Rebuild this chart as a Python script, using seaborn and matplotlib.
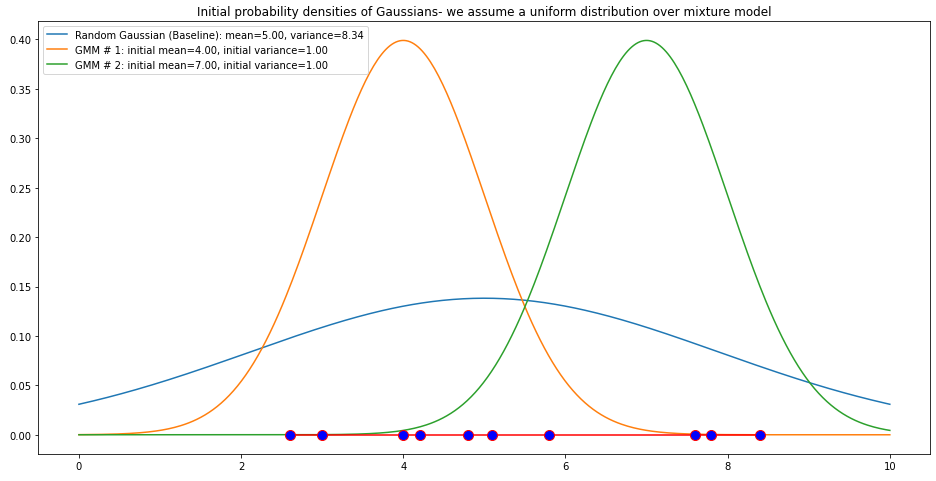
import numpy as np
import pandas as pd
import matplotlib
matplotlib.use("Agg")
import matplotlib.pyplot as plt
import seaborn as sns

# data points along x axis
points = [2.6, 3.0, 4.0, 4.2, 4.8, 5.1, 5.8, 7.6, 7.8, 8.4]
labels = ["Random Gaussian (Baseline): mean=5.00, variance=8.34",
          "GMM # 1: initial mean=4.00, initial variance=1.00",
          "GMM # 2: initial mean=7.00, initial variance=1.00"]
means = [5.0, 4.0, 7.0]
variances = [8.34, 1.0, 1.0]
colors = ["#1f77b4", "#ff7f0e", "#2ca02c"]

x = np.linspace(0, 10, 400)
rows = []
for lab, m, v in zip(labels, means, variances):
    y = np.exp(-(x - m) ** 2 / (2 * v)) / np.sqrt(2 * np.pi * v)
    rows.append(pd.DataFrame({"x": x, "y": y, "label": lab}))
df = pd.concat(rows)

plt.rcParams.update(plt.rcParamsDefault)
fig, ax = plt.subplots(figsize=(13, 6.694), dpi=72)
sns.lineplot(data=df, x="x", y="y", hue="label", palette=colors, ax=ax)
ax.plot(points, np.zeros(len(points)), color="red", marker="o",
        markerfacecolor="blue", markeredgecolor="red", markersize=10, linewidth=1.5)
ax.set_xlabel("")
ax.set_ylabel("")
ax.legend(loc="upper left", title=None)
ax.set_title("Initial probability densities of Gaussians- we assume a uniform distribution over mixture model")
fig.subplots_adjust(left=0.041, right=0.994, top=0.955, bottom=0.055)
fig.savefig("out.png")
